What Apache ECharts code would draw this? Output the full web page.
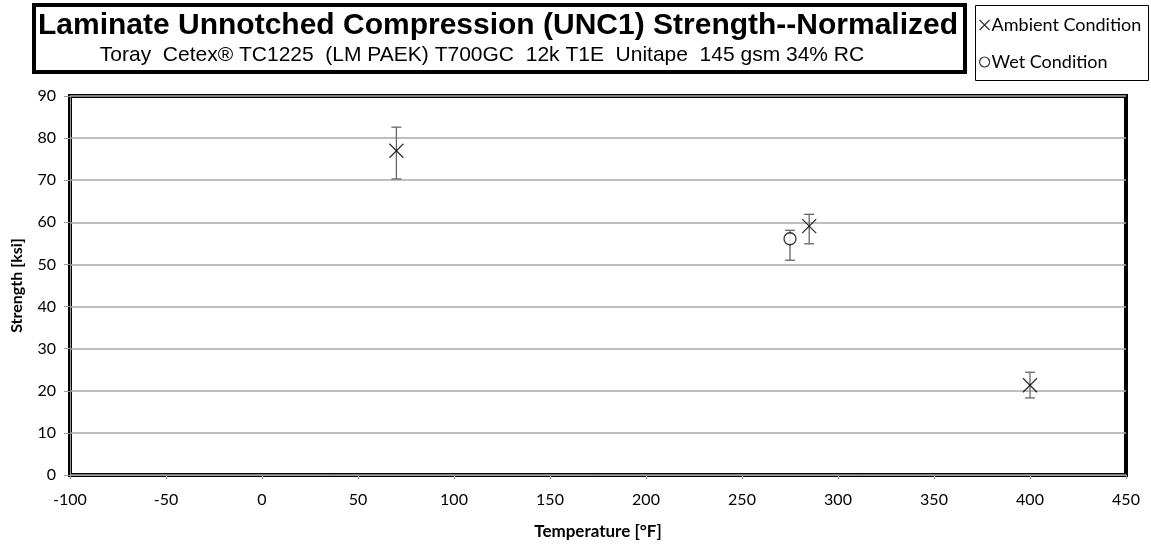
<!DOCTYPE html>
<html>
<head>
<meta charset="utf-8">
<script src="https://cdn.jsdelivr.net/npm/echarts@6/dist/echarts.min.js"></script>
<style>
html,body{margin:0;padding:0;background:#fff;}
#chart{width:1151px;height:546px;}
</style>
</head>
<body>
<div id="chart"></div>
<script>
// ---- data ----
const titleText = 'Laminate Unnotched Compression (UNC1) Strength--Normalized';
const subtitleText = 'Toray  Cetex® TC1225  (LM PAEK) T700GC  12k T1E  Unitape  145 gsm 34% RC';
const seriesNames = ['Ambient Condition', 'Wet Condition'];

const ambientTemps = [70, 285, 400];
const ambientMeans = [77.0, 59.1, 21.3];
const ambientLow   = [70.3, 54.9, 18.3];
const ambientHigh  = [82.6, 61.9, 24.4];

const wetTemps = [275];
const wetMeans = [56.1];
const wetLow   = [51.0];
const wetHigh  = [58.1];

const xTicks = {min: -100, max: 450, interval: 50};
const yTicks = {min: 0, max: 90, interval: 10};

// ---- build ----
const ambientPts = ambientTemps.map((t, i) => [t, ambientMeans[i]]);
const wetPts = wetTemps.map((t, i) => [t, wetMeans[i]]);
const errData = ambientTemps.map((t, i) => [t, ambientLow[i], ambientHigh[i]])
  .concat(wetTemps.map((t, i) => [t, wetLow[i], wetHigh[i]]));

const crossPath = 'path://M0,0L10,10M10,0L0,10';
const axisFont = 'Lato, "Open Sans", sans-serif';

const chart = echarts.init(document.getElementById('chart'), null, {renderer: 'canvas'});
chart.setOption({
  animation: false,
  backgroundColor: '#fff',
  grid: {
    left: 70, right: 25, top: 96, bottom: 71,
    show: true, borderColor: '#000', borderWidth: 4, backgroundColor: 'transparent'
  },
  graphic: [
    {type: 'rect', shape: {x: 34, y: 5, width: 931, height: 67},
     style: {fill: 'none', stroke: '#000', lineWidth: 4}, z: 10},
    {type: 'text', x: 498, y: 26, z: 11,
     style: {text: titleText, fill: '#000', font: 'bold 30px "Liberation Sans", Arial, sans-serif',
             textAlign: 'center', textVerticalAlign: 'middle'}},
    {type: 'text', x: 482, y: 55, z: 11,
     style: {text: subtitleText, fill: '#000', font: '21px "Liberation Sans", Arial, sans-serif',
             textAlign: 'center', textVerticalAlign: 'middle'}},
    {type: 'rect', shape: {x: 975.5, y: 5.5, width: 173, height: 75},
     style: {fill: 'none', stroke: '#000', lineWidth: 1}, z: 10}
  ],
  legend: {
    orient: 'vertical',
    left: 979, top: 16,
    itemWidth: 10, itemHeight: 10,
    itemGap: 19,
    padding: 0,
    textStyle: {fontFamily: axisFont, fontSize: 18, color: '#000', padding: [0, 0, 0, -3]},
    data: [
      {name: seriesNames[0], icon: crossPath,
       itemStyle: {color: 'transparent', borderColor: '#000', borderWidth: 1.2}},
      {name: seriesNames[1], icon: 'circle',
       itemStyle: {color: '#fff', borderColor: '#000', borderWidth: 1.2}}
    ]
  },
  xAxis: {
    type: 'value',
    min: xTicks.min, max: xTicks.max, interval: xTicks.interval,
    name: 'Temperature [°F]', nameLocation: 'middle', nameGap: 48,
    nameTextStyle: {fontFamily: axisFont, fontWeight: 'bold', fontSize: 17, color: '#000'},
    axisLine: {onZero: false, lineStyle: {color: '#999', width: 1}},
    axisTick: {show: true, length: 4, lineStyle: {color: '#999'}},
    axisLabel: {fontFamily: axisFont, fontSize: 16, color: '#000', margin: 17},
    splitLine: {show: false}
  },
  yAxis: {
    type: 'value',
    min: yTicks.min, max: yTicks.max, interval: yTicks.interval,
    name: 'Strength [ksi]', nameLocation: 'middle', nameGap: 45,
    nameTextStyle: {fontFamily: axisFont, fontWeight: 'bold', fontSize: 16, color: '#000'},
    axisLine: {onZero: false, lineStyle: {color: '#999', width: 1}},
    axisTick: {show: true, length: 6, lineStyle: {color: '#999'}},
    axisLabel: {fontFamily: axisFont, fontSize: 16, color: '#000', margin: 14},
    splitLine: {show: true, lineStyle: {color: '#aaa', width: 1.5}}
  },
  series: [
    {
      type: 'custom',
      name: 'errors',
      data: errData,
      z: 3,
      silent: true,
      renderItem: function (params, api) {
        const x = api.value(0);
        const lo = api.coord([x, api.value(1)]);
        const hi = api.coord([x, api.value(2)]);
        const w = 5;
        const st = {stroke: '#666', lineWidth: 1.3};
        return {
          type: 'group',
          children: [
            {type: 'line', shape: {x1: lo[0], y1: lo[1], x2: hi[0], y2: hi[1]}, style: st},
            {type: 'line', shape: {x1: lo[0] - w, y1: lo[1], x2: lo[0] + w, y2: lo[1]}, style: st},
            {type: 'line', shape: {x1: hi[0] - w, y1: hi[1], x2: hi[0] + w, y2: hi[1]}, style: st}
          ]
        };
      }
    },
    {
      type: 'scatter',
      name: seriesNames[0],
      data: ambientPts,
      symbol: crossPath,
      symbolSize: 14,
      z: 5,
      itemStyle: {color: 'transparent', borderColor: '#000', borderWidth: 1.3}
    },
    {
      type: 'scatter',
      name: seriesNames[1],
      data: wetPts,
      symbol: 'circle',
      symbolSize: 12,
      z: 5,
      itemStyle: {color: '#fff', borderColor: '#000', borderWidth: 1.3}
    }
  ]
});
</script>
</body>
</html>
